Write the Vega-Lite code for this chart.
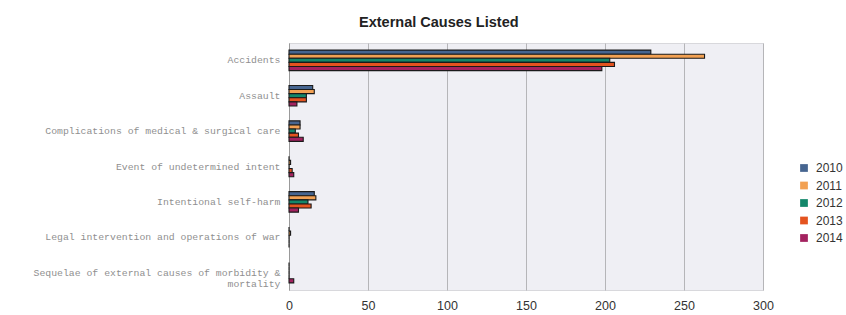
{
  "$schema": "https://vega.github.io/schema/vega-lite/v6.json",
  "autosize": "none",
  "width": 474,
  "height": 247,
  "padding": {"left": 289, "top": 43, "right": 83, "bottom": 25},
  "background": "#ffffff",
  "title": {
    "text": "External Causes Listed",
    "anchor": "start",
    "frame": "group",
    "dx": 70,
    "offset": 13,
    "font": "Liberation Sans",
    "fontSize": 14.5,
    "fontWeight": "bold",
    "color": "#222222"
  },
  "data": {
    "values": [
      {"cause": "Accidents", "year": "2010", "count": 229},
      {"cause": "Accidents", "year": "2011", "count": 263},
      {"cause": "Accidents", "year": "2012", "count": 203},
      {"cause": "Accidents", "year": "2013", "count": 206},
      {"cause": "Accidents", "year": "2014", "count": 198},
      {"cause": "Assault", "year": "2010", "count": 15},
      {"cause": "Assault", "year": "2011", "count": 16},
      {"cause": "Assault", "year": "2012", "count": 11},
      {"cause": "Assault", "year": "2013", "count": 11},
      {"cause": "Assault", "year": "2014", "count": 5},
      {"cause": "Complications of medical & surgical care", "year": "2010", "count": 7},
      {"cause": "Complications of medical & surgical care", "year": "2011", "count": 7},
      {"cause": "Complications of medical & surgical care", "year": "2012", "count": 4},
      {"cause": "Complications of medical & surgical care", "year": "2013", "count": 6},
      {"cause": "Complications of medical & surgical care", "year": "2014", "count": 9},
      {"cause": "Event of undetermined intent", "year": "2010", "count": 0},
      {"cause": "Event of undetermined intent", "year": "2011", "count": 1},
      {"cause": "Event of undetermined intent", "year": "2012", "count": 0},
      {"cause": "Event of undetermined intent", "year": "2013", "count": 2},
      {"cause": "Event of undetermined intent", "year": "2014", "count": 3},
      {"cause": "Intentional self-harm", "year": "2010", "count": 16},
      {"cause": "Intentional self-harm", "year": "2011", "count": 17},
      {"cause": "Intentional self-harm", "year": "2012", "count": 12},
      {"cause": "Intentional self-harm", "year": "2013", "count": 14},
      {"cause": "Intentional self-harm", "year": "2014", "count": 6},
      {"cause": "Legal intervention and operations of war", "year": "2010", "count": 0},
      {"cause": "Legal intervention and operations of war", "year": "2011", "count": 1},
      {"cause": "Legal intervention and operations of war", "year": "2012", "count": 0},
      {"cause": "Legal intervention and operations of war", "year": "2013", "count": 0},
      {"cause": "Legal intervention and operations of war", "year": "2014", "count": 0},
      {"cause": "Sequelae of external causes of morbidity & mortality", "year": "2010", "count": 0},
      {"cause": "Sequelae of external causes of morbidity & mortality", "year": "2011", "count": 0},
      {"cause": "Sequelae of external causes of morbidity & mortality", "year": "2012", "count": 0},
      {"cause": "Sequelae of external causes of morbidity & mortality", "year": "2013", "count": 0},
      {"cause": "Sequelae of external causes of morbidity & mortality", "year": "2014", "count": 3}
    ]
  },
  "mark": {"type": "bar", "stroke": "#1a1a1a", "strokeWidth": 1.1, "cornerRadius": 0},
  "encoding": {
    "y": {
      "field": "cause",
      "type": "nominal",
      "sort": null,
      "scale": {"paddingInner": 0.42, "paddingOuter": 0.2},
      "axis": {
        "title": null,
        "ticks": false,
        "labelPadding": 9,
        "labelFont": "Liberation Mono",
        "labelFontSize": 9.8,
        "labelColor": "#8f8f8f",
        "labelLimit": 400,
        "domainColor": "#999999",
        "labelExpr": "datum.value == 'Sequelae of external causes of morbidity & mortality' ? ['Sequelae of external causes of morbidity &', 'mortality'] : datum.value"
      }
    },
    "yOffset": {
      "field": "year",
      "type": "nominal",
      "scale": {"paddingInner": 0, "paddingOuter": 0}
    },
    "x": {
      "field": "count",
      "type": "quantitative",
      "scale": {"domain": [0, 300], "nice": false},
      "axis": {
        "title": null,
        "values": [0, 50, 100, 150, 200, 250, 300],
        "ticks": false,
        "domain": false,
        "labelFlush": false,
        "labelPadding": 9,
        "labelFont": "Liberation Sans",
        "labelFontSize": 12.5,
        "labelColor": "#333333",
        "gridColor": "#b5b5b8",
        "gridOpacity": 1
      }
    },
    "color": {
      "field": "year",
      "type": "nominal",
      "scale": {
        "domain": ["2010", "2011", "2012", "2013", "2014"],
        "range": ["#466590", "#f2a153", "#13876a", "#e4531f", "#a3225f"]
      },
      "legend": {
        "title": null,
        "orient": "none",
        "legendX": 509,
        "legendY": 119,
        "symbolType": "square",
        "symbolSize": 60,
        "symbolStrokeWidth": 0,
        "labelFont": "Liberation Sans",
        "labelFontSize": 12,
        "labelColor": "#333333",
        "rowPadding": 5.5,
        "labelOffset": 6
      }
    }
  },
  "config": {
    "view": {"fill": "#efeff4", "stroke": "#d8d8dc"}
  }
}
